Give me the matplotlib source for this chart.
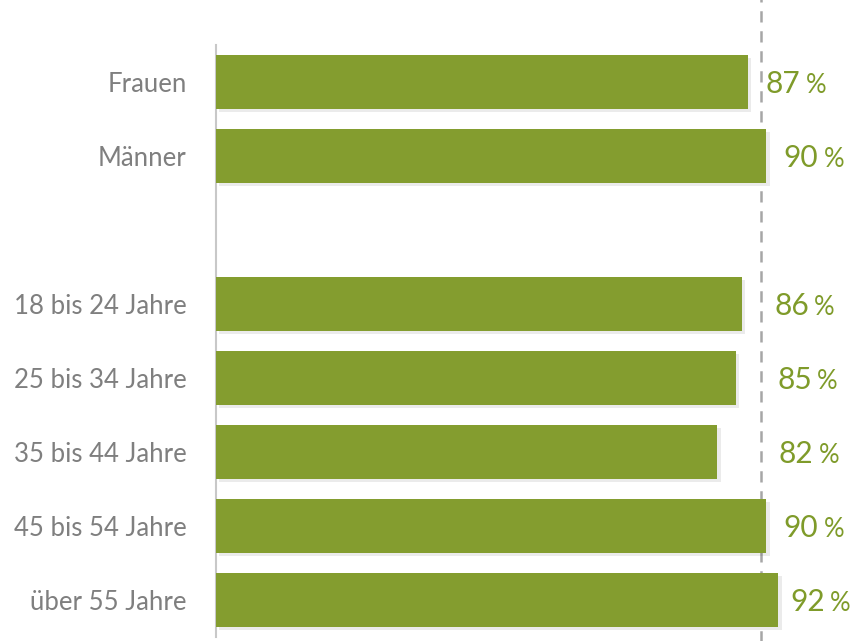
import matplotlib
matplotlib.use("Agg")
import matplotlib.pyplot as plt
import matplotlib.patheffects as pe

# data
kategorien = ["Frauen", "Männer", "18 bis 24 Jahre", "25 bis 34 Jahre",
              "35 bis 44 Jahre", "45 bis 54 Jahre", "über 55 Jahre"]
werte = [87, 90, 86, 85, 82, 90, 92]
positionen = [0, 1, 3, 4, 5, 6, 7]   # slot 2 stays empty
label_x = [89.9, 92.8, 91.3, 91.8, 92.0, 92.8, 93.9]
referenz = 89.2

gruen = "#849d2f"
text_gruen = "#7f9b2a"
grau = "#7f7f7f"

plt.rcParams['font.family'] = ['Lato', 'DejaVu Sans']

fig = plt.figure(figsize=(8.59, 6.41), dpi=100)
ax = fig.add_axes([216/859, 4/641, 1 - 216/859, 592/641])

bars = ax.barh(positionen, werte, height=0.73, color=gruen, zorder=3)
for b in bars:
    b.set_path_effects([pe.SimplePatchShadow(offset=(2.5, -2.5), shadow_rgbFace="#000000", alpha=0.08),
                        pe.Normal()])

ax.set_xlim(0, 105.2)
ax.set_ylim(7.5, -0.5)

# dashed reference line, runs beyond axes
ax.axvline(referenz, ymin=-0.01, ymax=1.08, color="#a6a6a6", lw=1.8,
           ls=(0, (4.5, 3.5)), clip_on=False, zorder=2)

for p, w, lx in zip(positionen, werte, label_x):
    ax.text(lx, p + 0.03, f"{w}", color=text_gruen, fontsize=21.5,
            va="center", ha="left")
    ax.annotate("%", xy=(lx, p + 0.05), xytext=(29, 0), textcoords="offset points",
                color=text_gruen, fontsize=18.5, va="center", ha="left")

ax.set_yticks(positionen)
ax.set_yticklabels(kategorien, color=grau, fontsize=18.5)
ax.tick_params(axis="y", length=0, pad=21)
ax.set_xticks([])

for s in ["top", "right", "bottom"]:
    ax.spines[s].set_visible(False)
ax.spines["left"].set_color("#c8c8c8")
ax.spines["left"].set_linewidth(1.5)

fig.savefig("out.png", dpi=100)
